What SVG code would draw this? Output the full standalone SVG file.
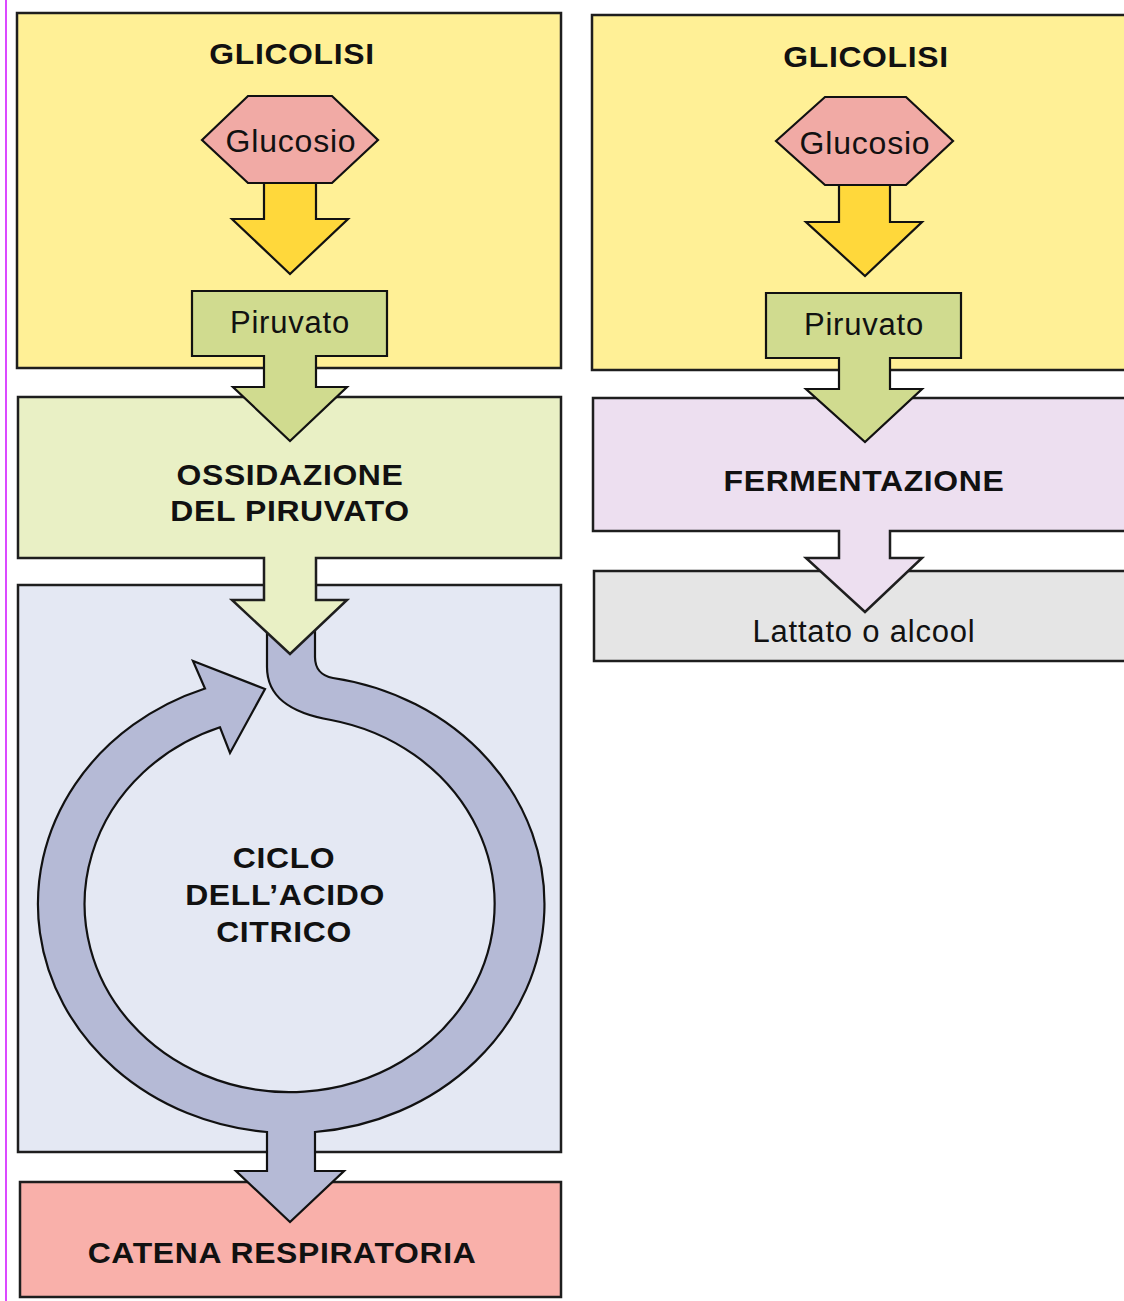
<svg xmlns="http://www.w3.org/2000/svg" width="1124" height="1301" viewBox="0 0 1124 1301">
<style>
.bx{stroke:#1e1e1e;stroke-width:2.5;stroke-linejoin:miter}
.sh{stroke:#111;stroke-width:2.2;stroke-linejoin:miter}
.t{font-family:"Liberation Sans",Arial,sans-serif;fill:#111;text-anchor:middle}
.b{font-weight:bold;font-size:29px;letter-spacing:0.6px}
.r{font-size:31px;letter-spacing:0.8px}
</style>
<rect width="1124" height="1301" fill="#ffffff"/>
<line x1="6" y1="0" x2="6" y2="1301" stroke="#d21cff" stroke-width="1.6"/>

<g id="glicolisi-left">
<rect class="bx" x="17" y="13" width="544" height="355" fill="#fff096"/>
<text class="t b" transform="translate(292,64) scale(1.1,1)">GLICOLISI</text>
</g>
<g id="glicolisi-right">
<rect class="bx" x="592" y="15" width="540" height="355" fill="#fff096"/>
<text class="t b" transform="translate(866,67) scale(1.1,1)">GLICOLISI</text>
</g>
<g id="catena">
<rect class="bx" x="20" y="1182" width="541" height="115" fill="#f9b0aa"/>
<text class="t b" transform="translate(282,1263) scale(1.1,1)">CATENA RESPIRATORIA</text>
</g>
<g id="ciclo-box">
<rect class="bx" x="18" y="585" width="543" height="567" fill="#e4e8f3"/>
</g>
<g id="lattato">
<rect class="bx" x="594" y="571" width="540" height="90" fill="#e5e5e5"/>
<text class="t r" x="864" y="642">Lattato o alcool</text>
</g>

<g id="connectors">
<path class="sh" d="M264,183 L316,183 L316,219 L348,219 L290,274 L232,219 L264,219 Z" fill="#ffd83b"/>
<path class="sh" d="M839,185 L890,185 L890,222 L922,222 L865,276 L806,222 L839,222 Z" fill="#ffd83b"/>
<path id="ciclo-ring" class="sh" d="M205,688.5 A252.5,229 0 0 0 267,1132 L267,1171 L236,1171 L290,1222 L344,1171 L315,1171 L315,1132 A252.5,229 0 0 0 333,678 C321,676 315,668 315,657 L315,630 L267,630 L267,667 C267,697 290,713 331,720 A205,188 0 1 1 220,727.3 L230,753 L265,689 L193,661 Z" fill="#b5bad6"/>
</g>

<g id="ciclo-text">
<text class="t b" transform="translate(284,868) scale(1.1,1)">CICLO</text>
<text class="t b" transform="translate(285,905) scale(1.1,1)">DELL’ACIDO</text>
<text class="t b" transform="translate(284,942) scale(1.1,1)">CITRICO</text>
</g>
<g id="glucosio-left">
<polygon class="sh" points="202,140 248,96 332,96 378,140 332,183 248,183" fill="#f1aaa5"/>
<text class="t r" x="291" y="152" style="font-size:32px">Glucosio</text>
</g>
<g id="glucosio-right">
<polygon class="sh" points="776,141 825,97 906,97 953,141 906,185 825,185" fill="#f1aaa5"/>
<text class="t r" x="865" y="154" style="font-size:32px">Glucosio</text>
</g>
<g id="ossidazione">
<path class="bx" d="M18,397 L561,397 L561,558 L316,558 L316,600 L347,600 L290,654 L232,600 L264,600 L264,558 L18,558 Z" fill="#e9f0c5"/>
<text class="t b" transform="translate(290,485) scale(1.1,1)">OSSIDAZIONE</text>
<text class="t b" transform="translate(290,521) scale(1.1,1)">DEL PIRUVATO</text>
</g>
<g id="fermentazione">
<path class="bx" d="M593,398 L1132,398 L1132,531 L890,531 L890,558 L922,558 L865,612 L806,558 L839,558 L839,531 L593,531 Z" fill="#eddff0"/>
<text class="t b" transform="translate(864,491) scale(1.1,1)">FERMENTAZIONE</text>
</g>
<g id="piruvato-left">
<path class="sh" d="M192,291 L387,291 L387,356 L316,356 L316,387 L347,387 L290,441 L233,387 L264,387 L264,356 L192,356 Z" fill="#d0db8f"/>
<text class="t r" x="290" y="333">Piruvato</text>
</g>
<g id="piruvato-right">
<path class="sh" d="M766,293 L961,293 L961,358 L890,358 L890,389 L922,389 L865,442 L806,389 L839,389 L839,358 L766,358 Z" fill="#d0db8f"/>
<text class="t r" x="864" y="335">Piruvato</text>
</g>
</svg>
